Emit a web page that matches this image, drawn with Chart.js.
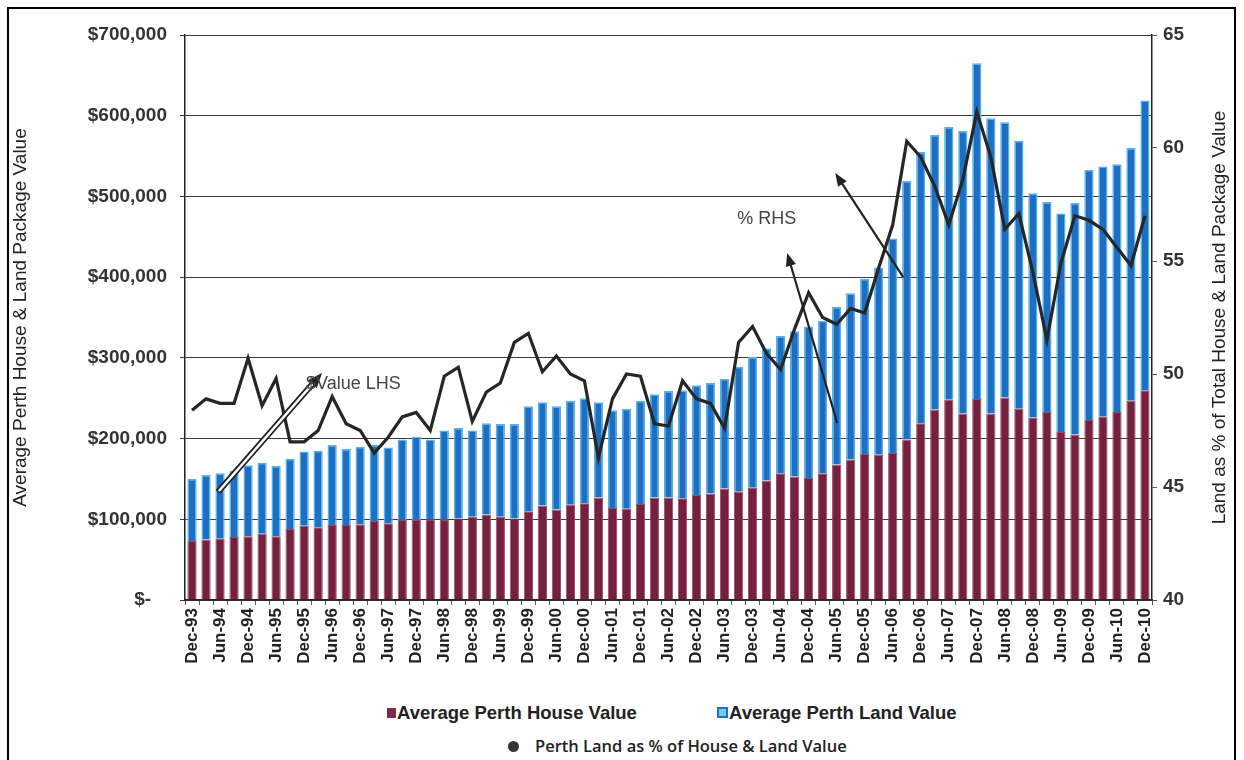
<!DOCTYPE html>
<html>
<head>
<meta charset="utf-8">
<script src="https://cdn.jsdelivr.net/npm/chart.js@4.4.1/dist/chart.umd.min.js"></script>
<style>
  html, body { margin: 0; padding: 0; background: #fff; }
  body { width: 1244px; height: 760px; position: relative; overflow: hidden; font-family: "Liberation Sans", Arial, sans-serif; }
  #wrap { position: absolute; left: 0; top: 0; width: 1244px; height: 700px; }
  #frame { position: absolute; left: 7px; top: 7px; width: 1229px; height: 800px; border: 2px solid #000; box-sizing: border-box; pointer-events: none; }
  .lg { position: absolute; white-space: nowrap; color: #222; line-height: 20px; }
  .lg.main { font-weight: bold; font-size: 18.5px; }
  .lg.share { font-family: "Open Sans", "Liberation Sans", sans-serif; font-weight: 600; font-size: 16.5px; }
  .sw { position: absolute; }
</style>
</head>
<body>
<div id="wrap"><canvas id="chart"></canvas></div>

<div class="sw" style="left:387px; top:708px; width:9px; height:10px; background:#7d2a4c;"></div>
<div class="lg main" style="left:397px; top:703px;">Average Perth House Value</div>
<div class="sw" style="left:717px; top:707px; width:7px; height:7px; border:2px solid #1a72cf; background:#7cc6f2;"></div>
<div class="lg main" style="left:729px; top:703px;">Average Perth Land Value</div>
<div class="sw" style="left:508px; top:741px; width:11px; height:11px; border-radius:50%; background:#333;"></div>
<div class="lg share" style="left:535px; top:736px;">Perth Land as % of House &amp; Land Value</div>

<div id="frame"></div>

<script>
// quarterly categories, Dec-93 .. Dec-10
const quarterLabels = [
  'Dec-93','Mar-94','Jun-94','Sep-94','Dec-94','Mar-95','Jun-95','Sep-95',
  'Dec-95','Mar-96','Jun-96','Sep-96','Dec-96','Mar-97','Jun-97','Sep-97',
  'Dec-97','Mar-98','Jun-98','Sep-98','Dec-98','Mar-99','Jun-99','Sep-99',
  'Dec-99','Mar-00','Jun-00','Sep-00','Dec-00','Mar-01','Jun-01','Sep-01',
  'Dec-01','Mar-02','Jun-02','Sep-02','Dec-02','Mar-03','Jun-03','Sep-03',
  'Dec-03','Mar-04','Jun-04','Sep-04','Dec-04','Mar-05','Jun-05','Sep-05',
  'Dec-05','Mar-06','Jun-06','Sep-06','Dec-06','Mar-07','Jun-07','Sep-07',
  'Dec-07','Mar-08','Jun-08','Sep-08','Dec-08','Mar-09','Jun-09','Sep-09',
  'Dec-09','Mar-10','Jun-10','Sep-10','Dec-10'
];

// $ values (left axis)
const houseValue = [
  73000, 75000, 76000, 78000, 79000, 82000, 79000, 88000,
  92000, 90000, 93000, 93000, 94000, 98000, 95000, 99000,
  99000, 100000, 100000, 101000, 103000, 106000, 103000, 101000,
  110000, 117000, 112000, 118000, 120000, 127000, 114000, 113000,
  119000, 127000, 127000, 126000, 130000, 132000, 138000, 134000,
  139000, 148000, 157000, 153000, 151000, 157000, 168000, 174000,
  181000, 180000, 182000, 199000, 219000, 236000, 248000, 231000,
  249000, 231000, 251000, 237000, 226000, 233000, 208000, 205000,
  223000, 227000, 233000, 247000, 260000
];
const landValue = [
  77000, 80000, 81000, 82000, 88000, 88000, 87000, 87000,
  92000, 95000, 99000, 94000, 96000, 94000, 94000, 100000,
  103000, 99000, 110000, 112000, 107000, 113000, 115000, 117000,
  130000, 128000, 128000, 129000, 130000, 118000, 121000, 124000,
  128000, 128000, 132000, 134000, 136000, 137000, 136000, 155000,
  162000, 164000, 170000, 180000, 188000, 189000, 195000, 206000,
  217000, 232000, 266000, 320000, 336000, 340000, 338000, 350000,
  416000, 366000, 341000, 332000, 278000, 260000, 271000, 287000,
  310000, 310000, 307000, 313000, 359000
];

// land as % of total (right axis)
const landShare = [
  48.4, 48.9, 48.7, 48.7, 50.7, 48.6, 49.8, 47.0,
  47.0, 47.5, 49.0, 47.8, 47.5, 46.5, 47.2, 48.1,
  48.3, 47.5, 49.9, 50.3, 47.9, 49.2, 49.6, 51.4,
  51.8, 50.1, 50.8, 50.0, 49.7, 46.3, 48.9, 50.0,
  49.9, 47.8, 47.7, 49.7, 48.9, 48.7, 47.6, 51.4,
  52.1, 50.9, 50.2, 52.0, 53.6, 52.5, 52.2, 52.9,
  52.7, 54.7, 56.6, 60.3, 59.6, 58.3, 56.6, 58.6,
  61.6, 59.6, 56.4, 57.1, 54.5, 51.5, 54.9, 57.0,
  56.8, 56.4, 55.6, 54.8, 57.0
];

// annotation anchors in data units: [category index, axis value]
const lhsArrow = { from: [1.85, 133800], to: [9.28, 281200], text: [8.13, 267600], label: '$Value LHS' };
const rhsArrows = [
  { from: [46.04, 47.83], to: [42.47, 55.35] },
  { from: [50.75, 54.29], to: [45.9, 58.89] }
];
const rhsText = { at: [38.9, 56.86], label: '% RHS' };

const tickFont = { family: 'Liberation Sans, Arial, sans-serif', size: 19, weight: 'bold' };

function head(ctx, x1, y1, x2, y2, size) {
  const a = Math.atan2(y2 - y1, x2 - x1);
  ctx.beginPath();
  ctx.moveTo(x2, y2);
  ctx.lineTo(x2 - size * Math.cos(a - 0.38), y2 - size * Math.sin(a - 0.38));
  ctx.lineTo(x2 - size * Math.cos(a + 0.38), y2 - size * Math.sin(a + 0.38));
  ctx.closePath();
  ctx.fill();
}

const notes = {
  id: 'notes',
  afterDatasetsDraw(chart) {
    const { ctx, scales: { x, y, y1 } } = chart;
    ctx.save();
    ctx.fillStyle = '#222';
    ctx.strokeStyle = '#222';

    // hollow arrow for the $ series
    const ax1 = x.getPixelForValue(lhsArrow.from[0]), ay1 = y.getPixelForValue(lhsArrow.from[1]);
    const ax2 = x.getPixelForValue(lhsArrow.to[0]), ay2 = y.getPixelForValue(lhsArrow.to[1]);
    const ang = Math.atan2(ay2 - ay1, ax2 - ax1);
    const bx = ax2 - 10 * Math.cos(ang), by = ay2 - 10 * Math.sin(ang);
    ctx.lineWidth = 6;
    ctx.beginPath(); ctx.moveTo(ax1, ay1); ctx.lineTo(bx, by); ctx.stroke();
    ctx.strokeStyle = '#fff';
    ctx.lineWidth = 2.5;
    ctx.beginPath(); ctx.moveTo(ax1 + 1, ay1 - 1); ctx.lineTo(bx, by); ctx.stroke();
    head(ctx, ax1, ay1, ax2, ay2, 16);

    ctx.font = '18px "Liberation Sans", Arial, sans-serif';
    ctx.fillStyle = '#444';
    ctx.textBaseline = 'middle';
    ctx.fillText(lhsArrow.label, x.getPixelForValue(lhsArrow.text[0]), y.getPixelForValue(lhsArrow.text[1]));

    // single arrows for the % series
    ctx.fillStyle = '#222';
    ctx.strokeStyle = '#222';
    ctx.lineWidth = 2.2;
    rhsArrows.forEach(a => {
      const x1 = x.getPixelForValue(a.from[0]), py1 = y1.getPixelForValue(a.from[1]);
      const x2 = x.getPixelForValue(a.to[0]), py2 = y1.getPixelForValue(a.to[1]);
      const t = Math.atan2(py2 - py1, x2 - x1);
      ctx.beginPath(); ctx.moveTo(x1, py1); ctx.lineTo(x2 - 8 * Math.cos(t), py2 - 8 * Math.sin(t)); ctx.stroke();
      head(ctx, x1, py1, x2, py2, 14);
    });
    ctx.fillStyle = '#444';
    ctx.fillText(rhsText.label, x.getPixelForValue(rhsText.at[0]), y1.getPixelForValue(rhsText.at[1]));

    // right axis title, reading bottom to top
    ctx.fillStyle = '#222';
    ctx.font = '19px "Liberation Sans", Arial, sans-serif';
    ctx.textAlign = 'center';
    ctx.translate(1220, (chart.chartArea.top + chart.chartArea.bottom) / 2);
    ctx.rotate(-Math.PI / 2);
    ctx.fillText('Land as % of Total House & Land Package Value', 0, 0);
    ctx.restore();
  }
};

new Chart(document.getElementById('chart'), {
  data: {
    labels: quarterLabels,
    datasets: [
      {
        type: 'line',
        label: 'Perth Land as % of House & Land Value',
        data: landShare,
        yAxisID: 'y1',
        order: 0,
        borderColor: '#262626',
        borderWidth: 3.2,
        pointRadius: 0,
        tension: 0
      },
      {
        type: 'bar',
        label: 'Average Perth House Value',
        data: houseValue,
        yAxisID: 'y',
        order: 1,
        backgroundColor: '#75203f',
        borderColor: '#9a4d6c',
        borderWidth: 1,
        barPercentage: 0.66,
        categoryPercentage: 1
      },
      {
        type: 'bar',
        label: 'Average Perth Land Value',
        data: landValue,
        yAxisID: 'y',
        order: 1,
        backgroundColor: '#1c6fc2',
        borderColor: '#52b2ea',
        borderWidth: 1.5,
        barPercentage: 0.66,
        categoryPercentage: 1
      }
    ]
  },
  options: {
    responsive: true,
    maintainAspectRatio: false,
    animation: false,
    layout: { padding: { top: 35, left: 0, right: 0, bottom: 0 } },
    plugins: {
      legend: { display: false },
      tooltip: { enabled: false }
    },
    scales: {
      x: {
        stacked: true,
        afterFit: s => { s.height = 100; },
        grid: { display: true, drawOnChartArea: false, tickLength: 5, color: '#555' },
        border: { color: '#222', width: 1.5 },
        ticks: {
          autoSkip: false,
          minRotation: 90,
          maxRotation: 90,
          padding: 3,
          color: '#222',
          font: { family: 'Liberation Sans, Arial, sans-serif', size: 17, weight: 'bold' },
          callback: (v, i) => (i % 2 === 0 ? quarterLabels[i] : '')
        }
      },
      y: {
        stacked: true,
        position: 'left',
        min: 0,
        max: 700000,
        afterFit: s => { s.width = 185; },
        grid: { color: '#3a3a3a', lineWidth: 1, tickLength: 5 },
        border: { color: '#222', width: 1.5 },
        ticks: {
          stepSize: 100000,
          padding: 13,
          color: '#333',
          font: tickFont,
          callback: v => (v === 0 ? '$-   ' : '$' + v.toLocaleString('en-US'))
        },
        title: {
          display: true,
          text: 'Average Perth House & Land Package Value',
          color: '#222',
          padding: { top: 9, bottom: 0 },
          font: { family: 'Liberation Sans, Arial, sans-serif', size: 19 }
        }
      },
      y1: {
        position: 'right',
        min: 40,
        max: 65,
        afterFit: s => { s.width = 92; },
        grid: { display: true, drawOnChartArea: false, tickLength: 5, color: '#555' },
        border: { color: '#222', width: 1.5 },
        ticks: { stepSize: 5, padding: 6, color: '#333', font: tickFont }
      }
    }
  },
  plugins: [notes]
});
</script>
</body>
</html>
